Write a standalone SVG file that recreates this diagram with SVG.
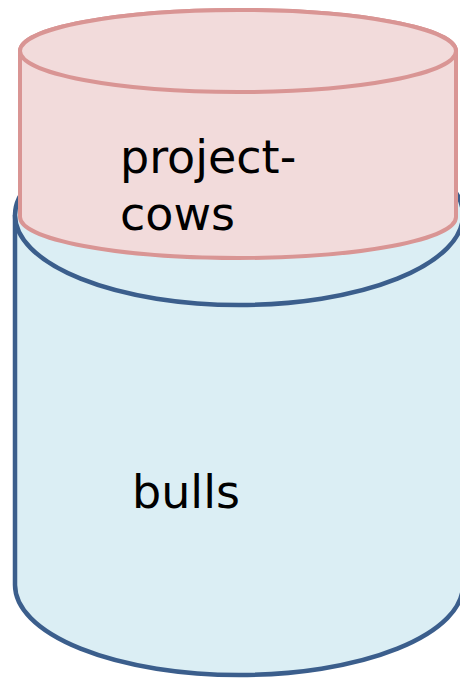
<svg xmlns="http://www.w3.org/2000/svg" width="460" height="680" viewBox="0 0 460 680">
  <style>
    .blue { fill: #dbeef4; stroke: #3b5e8c; stroke-width: 4.5; }
    .pink { fill: #f2dbdb; stroke: #d99594; stroke-width: 4; }
    .label { font-family: "DejaVu Sans", Verdana, sans-serif; font-size: 46px; fill: #000; }
  </style>
  <!-- bulls: lower, larger cylinder -->
  <g id="bulls">
    <path class="blue" d="M 15 215 L 15 585 A 224 90 0 0 0 463 585 L 463 215 A 224 90 0 0 0 15 215 Z"/>
    <path class="blue" fill="none" d="M 15 215 A 224 90 0 0 0 463 215"/>
    <text class="label" x="132" y="508">bulls</text>
  </g>
  <!-- project-cows: upper cylinder -->
  <g id="project-cows">
    <path class="pink" d="M 20 51 L 20 217 A 218 41 0 0 0 456 217 L 456 51 A 218 41 0 0 0 20 51 Z"/>
    <ellipse class="pink" cx="238" cy="51" rx="218" ry="41"/>
    <text class="label"><tspan x="120" y="173">project-</tspan><tspan x="120" y="230">cows</tspan></text>
  </g>
  <g id="connectors"/>
</svg>
